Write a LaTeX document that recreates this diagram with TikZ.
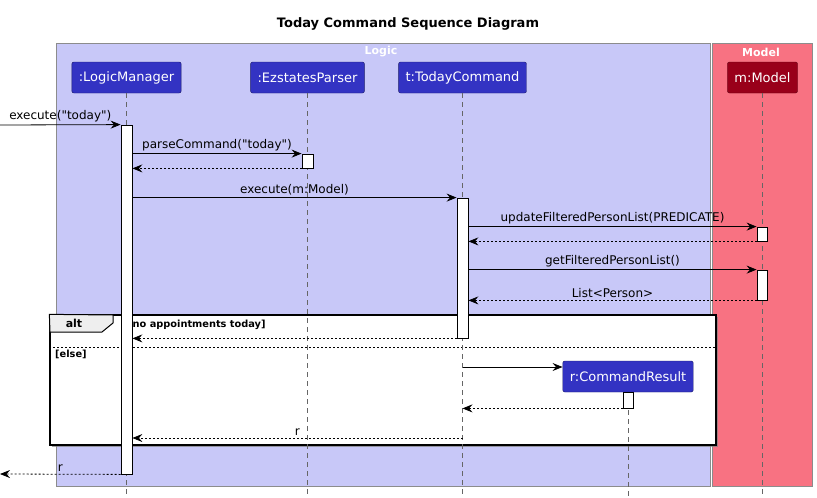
\documentclass[tikz,border=0pt]{standalone}
\usepackage{fontspec}
\setmainfont{DejaVu Sans}
\usepackage{tikz}
\usetikzlibrary{arrows.meta,fit,shadows}

\definecolor{logicbg}{HTML}{C8C8F8}
\definecolor{modelbg}{HTML}{F87282}
\definecolor{partblue}{HTML}{3333C3}
\definecolor{partred}{HTML}{99001A}
\definecolor{tabgray}{HTML}{EEEEEE}
\newcommand{\qq}{\textquotedbl}

\tikzset{
  pkg/.style={draw=black!45, line width=.6pt},
  part/.style={draw=black!45!partblue, fill=partblue, rounded corners=2pt, text=white,
    minimum height=31pt, inner xsep=7pt, font=\fontsize{13}{15}\selectfont},
  lifeline/.style={draw=black!60, dash pattern=on 5pt off 4pt, line width=.6pt},
  actbox/.style={draw, fill=white, line width=.8pt, inner sep=0pt},
  msg/.style={line width=.8pt, -{Stealth[length=10pt,width=8pt,inset=3.5pt]}},
  ret/.style={msg, dash pattern=on 2pt off 2pt},
  lbl/.style={font=\fontsize{12}{14}\selectfont, inner sep=2pt},
  guard/.style={font=\fontsize{9.8}{12}\selectfont\bfseries, anchor=west, inner sep=1pt}
}

\begin{document}
\begin{tikzpicture}[x=1pt, y=-1pt]
  \useasboundingbox (0,0) rectangle (817,498);

  % title and boxes
  \node[font=\fontsize{13}{15}\selectfont\bfseries] (title) at (408,24) {Today Command Sequence Diagram};
  \fill[logicbg] (56,43) rectangle (710,486);
  \draw[pkg] (56,43) rectangle (710,486);
  \fill[modelbg] (712,43) rectangle (812,486);
  \draw[pkg] (712,43) rectangle (812,486);
  \node[text=white, font=\fontsize{11}{13}\selectfont\bfseries] (logiclbl) at (381,52) {Logic};
  \node[text=white, font=\fontsize{11}{13}\selectfont\bfseries] (modellbl) at (761,52) {Model};

  % alt frame
  \node[draw, fill=white, line width=1.3pt, inner sep=0pt,
        drop shadow={shadow xshift=2pt, shadow yshift=-2pt, opacity=.7},
        fit={(50,315)(716,445)}] (alt) {};
  \draw[fill=tabgray, line width=1pt] (alt.north west) -- (113,315) -- (113,323) -- (102,332) -- (50,332) -- cycle;
  \node[font=\fontsize{11}{13}\selectfont\bfseries] (alttag) at (74,323) {alt};
  \node[guard] (guard1) at (127,324.5) {[no appointments today]};
  \draw[line width=.6pt, dash pattern=on 2pt off 2pt] (alt.west |- 0,347) -- (alt.east |- 0,347);
  \node[guard] (guard2) at (54,354.5) {[else]};

  % participants
  \node[part] (lm) at (126.5,77.5) {:LogicManager};
  \node[part] (ep) at (307.5,77.5) {:EzstatesParser};
  \node[part] (tc) at (462.5,77.5) {t:TodayCommand};
  \node[part, fill=partred, draw=black!40!partred] (m) at (762.5,77.5) {m:Model};
  \node[part] (cr) at (628,376.5) {r:CommandResult};

  \draw[lifeline] (lm.south) -- (lm.south |- 0,498);
  \draw[lifeline] (ep.south) -- (ep.south |- 0,498);
  \draw[lifeline] (tc.south) -- (tc.south |- 0,498);
  \draw[lifeline] (m.south) -- (m.south |- 0,498);
  \draw[lifeline] (cr.south) -- (cr.south |- 0,498);

  % activations
  \node[actbox, fit={(121,125)(132,474)}] (lmact) {};
  \node[actbox, fit={(302,154)(313,168)}] (epact) {};
  \node[actbox, fit={(457,198)(468,338)}] (tcact) {};
  \node[actbox, fit={(757,227)(767,241)}] (mact1) {};
  \node[actbox, fit={(757,270)(767,300)}] (mact2) {};
  \node[actbox, fit={(623,392)(633,408)}] (cract) {};

  \coordinate (caller) at (0,125);
  \coordinate (exit) at (0,474);

  % messages
  \draw[msg] (caller) -- (lmact.north west) node[lbl, midway, above] {execute(\qq today\qq)};
  \draw[msg] (lmact.east |- epact.north) -- (epact.north west) node[lbl, midway, above] {parseCommand(\qq today\qq)};
  \draw[ret] (epact.south west) -- (lmact.east |- epact.south);
  \draw[msg] (lmact.east |- tcact.north) -- (tcact.north west) node[lbl, midway, above] {execute(m:Model)};
  \draw[msg] (tcact.east |- mact1.north) -- (mact1.north west) node[lbl, midway, above] {updateFilteredPersonList(PREDICATE)};
  \draw[ret] (mact1.south west) -- (tcact.east |- mact1.south);
  \draw[msg] (tcact.east |- mact2.north) -- (mact2.north west) node[lbl, midway, above] {getFilteredPersonList()};
  \draw[ret] (mact2.south west) -- (tcact.east |- mact2.south) node[lbl, midway, above] {List<Person>};
  \draw[ret] (tcact.south west) -- (lmact.east |- tcact.south);
  \draw[msg] (tc.south |- 0,367) -- (cr.west |- 0,367);
  \draw[ret] (cract.south west) -- (tc.south |- cract.south);
  \draw[ret] (tc.south |- 0,438) -- (lmact.east |- 0,438) node[lbl, midway, above] {r};
  \draw[ret] (lmact.south west) -- (exit) node[lbl, midway, above] {r};

\end{tikzpicture}
\end{document}
